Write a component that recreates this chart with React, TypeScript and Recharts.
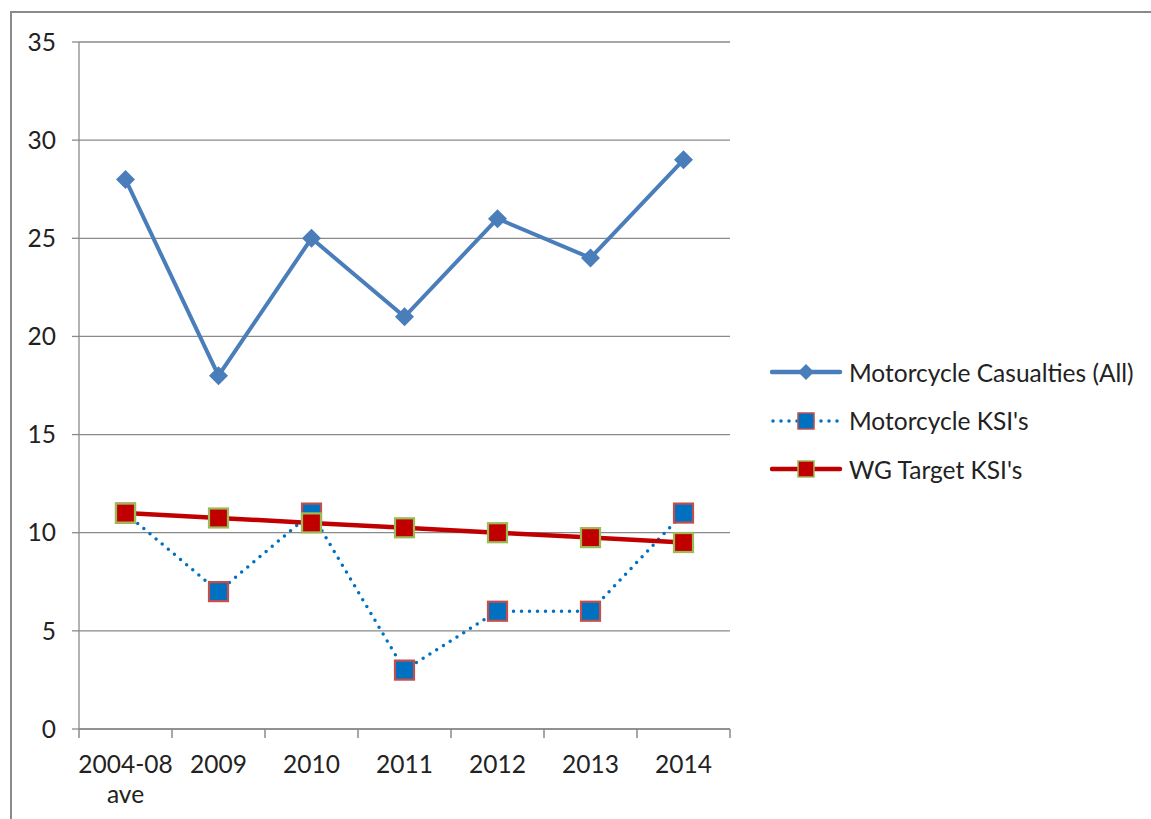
import { LineChart, Line, XAxis, YAxis, CartesianGrid, Legend } from 'recharts';

const categories = ['2004-08\nave', '2009', '2010', '2011', '2012', '2013', '2014'];
const casualtiesAll = [28, 18, 25, 21, 26, 24, 29];
const motorcycleKsis = [11, 7, 11, 3, 6, 6, 11];
const wgTargetKsis = [11, 10.75, 10.5, 10.25, 10, 9.75, 9.5];
const yTicks = [0, 5, 10, 15, 20, 25, 30, 35];

const FONT = 'Lato, "Open Sans", sans-serif';
const FONT_SIZE = 24.5;
const TEXT = '#222';
const AXIS = '#8a8a8a';
const BLUE = '#4A7EBB';
const KSI_BLUE = '#0070C0';
const KSI_EDGE = '#C0504D';
const RED = '#C00000';
const GREEN = '#9BBB59';

// x is numeric so the axis ticks can sit on the category boundaries
const data = categories.map((label, i) => ({
  x: i + 0.5,
  label,
  all: casualtiesAll[i],
  ksi: motorcycleKsis[i],
  wg: wgTargetKsis[i],
}));
const xTicks = categories.flatMap((_, i) => [i, i + 0.5]).concat(categories.length);

function XTick({ x, y, payload }: any) {
  const v = payload.value as number;
  if (Number.isInteger(v)) {
    return <line x1={x} x2={x} y1={y} y2={y + 9} stroke={AXIS} strokeWidth={1.5} />;
  }
  const lines = categories[Math.floor(v)].split('\n');
  return (
    <text x={x} y={y + 44} textAnchor="middle" fill={TEXT} fontFamily={FONT} fontSize={FONT_SIZE}>
      {lines.map((l, i) => (
        <tspan key={i} x={x} dy={i === 0 ? 0 : 30}>{l}</tspan>
      ))}
    </text>
  );
}

const diamond = (props: any) => {
  const { cx, cy, index } = props;
  const s = 9.5;
  return <path key={`dia-${index}`} d={`M${cx},${cy - s}L${cx + s},${cy}L${cx},${cy + s}L${cx - s},${cy}Z`} fill={BLUE} />;
};

const square = (fill: string, edge: string) => (props: any) => {
  const { cx, cy, index } = props;
  return <rect key={`sq-${fill}-${index}`} x={cx - 9.5} y={cy - 9.5} width={19} height={19} fill={fill} stroke={edge} strokeWidth={2.2} />;
};

const legendItems = [
  { name: 'Motorcycle Casualties (All)', kind: 'all' },
  { name: "Motorcycle KSI's", kind: 'ksi' },
  { name: "WG Target KSI's", kind: 'wg' },
];

function LegendSample({ kind }: { kind: string }) {
  return (
    <svg width={79} height={24} style={{ display: 'block' }}>
      {kind === 'all' && (
        <>
          <line x1={2} x2={70} y1={12} y2={12} stroke={BLUE} strokeWidth={4.5} strokeLinecap="round" />
          <path d="M36,4L44,12L36,20L28,12Z" fill={BLUE} />
        </>
      )}
      {kind === 'ksi' && (
        <>
          <line x1={3} x2={70} y1={12} y2={12} stroke={KSI_BLUE} strokeWidth={3.5} strokeDasharray="0 8" strokeLinecap="round" />
          <rect x={28} y={4} width={16} height={16} fill={KSI_BLUE} stroke={KSI_EDGE} strokeWidth={1.5} />
        </>
      )}
      {kind === 'wg' && (
        <>
          <line x1={2} x2={70} y1={12} y2={12} stroke={RED} strokeWidth={4.5} strokeLinecap="round" />
          <rect x={28} y={4} width={16} height={16} fill={RED} stroke={GREEN} strokeWidth={1.5} />
        </>
      )}
    </svg>
  );
}

function ChartLegend() {
  return (
    <div>
      {legendItems.map(item => (
        <div key={item.kind} style={{ display: 'flex', alignItems: 'center', height: 48.5 }}>
          <LegendSample kind={item.kind} />
          <span style={{ fontFamily: FONT, fontSize: FONT_SIZE, color: TEXT, whiteSpace: 'nowrap' }}>{item.name}</span>
        </div>
      ))}
    </div>
  );
}

export default function App() {
  return (
    <div style={{ position: 'absolute', left: 0, top: 0, width: 1151, height: 819, overflow: 'hidden', background: '#fff' }}>
      <div
        style={{
          position: 'absolute',
          left: 10,
          top: 11,
          width: 1300,
          height: 1000,
          border: `2px solid ${AXIS}`,
        }}
      />
      <div style={{ position: 'absolute', left: 0, top: 0 }}>
        <LineChart width={1151} height={819} data={data} margin={{ top: 42, right: 421, bottom: 0, left: 0 }}>
          <CartesianGrid horizontal vertical={false} stroke={AXIS} strokeWidth={1.3} />
          <XAxis
            dataKey="x"
            type="number"
            domain={[0, categories.length]}
            ticks={xTicks}
            interval={0}
            height={90}
            tickLine={false}
            tickSize={0}
            tickMargin={0}
            stroke={AXIS}
            strokeWidth={1.3}
            tick={<XTick />}
          />
          <YAxis
            domain={[0, 35]}
            ticks={yTicks}
            width={79}
            tickSize={7}
            tickMargin={16}
            stroke={AXIS}
            strokeWidth={1.3}
            tick={{ fill: TEXT, fontSize: FONT_SIZE, fontFamily: FONT }}
          />
          <Line
            dataKey="all"
            name="Motorcycle Casualties (All)"
            stroke={BLUE}
            strokeWidth={4}
            dot={diamond}
            activeDot={false}
            isAnimationActive={false}
          />
          <Line
            dataKey="ksi"
            name="Motorcycle KSI's"
            stroke={KSI_BLUE}
            strokeWidth={3.5}
            strokeDasharray="0 8"
            strokeLinecap="round"
            dot={square(KSI_BLUE, KSI_EDGE)}
            activeDot={false}
            isAnimationActive={false}
          />
          <Line
            dataKey="wg"
            name="WG Target KSI's"
            stroke={RED}
            strokeWidth={4.5}
            dot={square(RED, GREEN)}
            activeDot={false}
            isAnimationActive={false}
          />
          <Legend
            layout="horizontal"
            align="center"
            verticalAlign="middle"
            content={<ChartLegend />}
            wrapperStyle={{ left: 770, top: 348, width: 'auto', height: 'auto' }}
          />
        </LineChart>
      </div>
    </div>
  );
}
